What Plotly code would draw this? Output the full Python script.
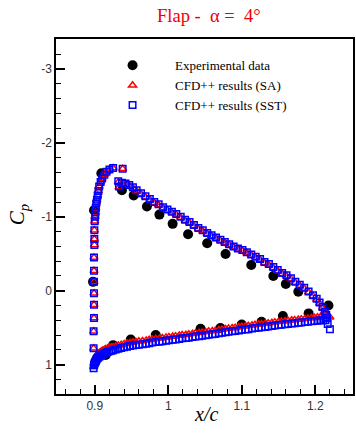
import plotly.graph_objects as go

# Experimental data
exp_x = [0.8977, 0.899, 0.909, 0.937, 0.953, 0.971, 0.988, 1.006, 1.027, 1.053, 1.078,
         1.113, 1.143, 1.160, 1.177, 1.218,
         0.915, 0.925, 0.949, 0.983, 1.044, 1.071, 1.100, 1.127, 1.156, 1.191]
exp_cp = [-0.12, -1.09, -1.59, -1.36, -1.29, -1.14, -1.03, -0.905, -0.765, -0.643, -0.498,
          -0.349, -0.20, -0.09, 0.013, 0.20,
          0.87, 0.737, 0.66, 0.60, 0.516, 0.505, 0.457, 0.42, 0.343, 0.307]

# CFD upper surface (leading-edge column, suction peak, then to trailing edge)
up_x = [0.8985, 0.8985, 0.899, 0.899, 0.899, 0.899, 0.899, 0.899, 0.8995, 0.8995, 0.8995,
        0.900, 0.9005, 0.901, 0.9015, 0.902, 0.903, 0.904, 0.905, 0.906, 0.908, 0.910,
        0.913, 0.916, 0.920, 0.925, 0.938, 0.932, 0.933,
        0.937, 0.942, 0.947, 0.952, 0.957, 0.963, 0.969, 0.975, 0.981, 0.987, 0.993,
        0.999, 1.005, 1.011, 1.017, 1.023, 1.029, 1.035, 1.041, 1.047, 1.053, 1.059,
        1.065, 1.071, 1.077, 1.083, 1.089, 1.095, 1.101, 1.107, 1.113, 1.119, 1.125,
        1.131, 1.137, 1.143, 1.149, 1.155, 1.161, 1.167, 1.173, 1.179, 1.185, 1.191,
        1.197, 1.202, 1.206, 1.210, 1.213, 1.215, 1.216]
up_cp_sst = [0.78, 0.55, 0.37, 0.19, 0.035, -0.12, -0.27, -0.45, -0.62, -0.70, -0.82,
             -0.94, -1.00, -1.06, -1.12, -1.18, -1.23, -1.29, -1.35, -1.41, -1.47, -1.52,
             -1.57, -1.61, -1.64, -1.66, -1.65, -1.48, -1.41,
             -1.46, -1.45, -1.43, -1.40, -1.36, -1.32, -1.28, -1.24, -1.20, -1.17, -1.13,
             -1.10, -1.07, -1.04, -1.00, -0.96, -0.93, -0.89, -0.85, -0.82, -0.78, -0.75,
             -0.72, -0.69, -0.66, -0.63, -0.60, -0.57, -0.55, -0.52, -0.49, -0.46, -0.43,
             -0.39, -0.36, -0.32, -0.28, -0.24, -0.21, -0.17, -0.12, -0.08, -0.04, 0.01,
             0.06, 0.11, 0.16, 0.22, 0.28, 0.33, 0.37]
up_cp_sa = [0.78, 0.55, 0.37, 0.19, 0.035, -0.12, -0.27, -0.45, -0.62, -0.70, -0.82,
            -0.94, -1.00, -1.06, -1.12, -1.18, -1.23, -1.29, -1.35, -1.41, -1.47, -1.52,
            -1.57, -1.61, -1.64, -1.66, -1.65, -1.47, -1.40,
            -1.45, -1.44, -1.42, -1.39, -1.35, -1.31, -1.27, -1.23, -1.19, -1.16, -1.12,
            -1.09, -1.06, -1.03, -0.99, -0.95, -0.92, -0.88, -0.84, -0.81, -0.77, -0.74,
            -0.71, -0.68, -0.65, -0.62, -0.59, -0.56, -0.54, -0.51, -0.48, -0.45, -0.42,
            -0.38, -0.35, -0.31, -0.27, -0.23, -0.20, -0.16, -0.11, -0.07, -0.03, 0.02,
            0.07, 0.12, 0.17, 0.23, 0.28, 0.33, 0.36]

# CFD lower surface (stagnation to trailing edge)
lo_x = [0.8985, 0.899, 0.8995, 0.900, 0.9008, 0.9015, 0.9022, 0.903, 0.904, 0.905, 0.9065,
        0.908, 0.9095, 0.911, 0.913, 0.915, 0.9175, 0.920, 0.9225, 0.925, 0.9285,
        0.932, 0.936, 0.940, 0.944, 0.948, 0.952, 0.956, 0.960, 0.965, 0.970, 0.974,
        0.978, 0.983, 0.988, 0.992, 0.997, 1.001, 1.006, 1.010, 1.015, 1.019, 1.024,
        1.028, 1.033, 1.037, 1.042, 1.046, 1.051, 1.055, 1.060, 1.064, 1.069, 1.073,
        1.078, 1.082, 1.087, 1.091, 1.096, 1.100, 1.105, 1.109, 1.114, 1.118, 1.123,
        1.127, 1.132, 1.136, 1.141, 1.145, 1.150, 1.154, 1.159, 1.163, 1.168, 1.172,
        1.177, 1.181, 1.186, 1.190, 1.195, 1.199, 1.203, 1.207, 1.211, 1.214, 1.217, 1.220]
lo_cp_sa = [1.03, 0.98, 0.96, 0.94, 0.92, 0.90, 0.885, 0.87, 0.86, 0.85, 0.84,
            0.83, 0.82, 0.81, 0.80, 0.79, 0.78, 0.77, 0.765, 0.76, 0.75,
            0.74, 0.73, 0.72, 0.712, 0.705, 0.697, 0.69, 0.685, 0.68, 0.672, 0.665,
            0.658, 0.65, 0.645, 0.64, 0.632, 0.625, 0.62, 0.615, 0.607, 0.60, 0.595,
            0.59, 0.582, 0.575, 0.57, 0.565, 0.557, 0.55, 0.545, 0.54, 0.532, 0.525,
            0.517, 0.51, 0.505, 0.50, 0.492, 0.485, 0.48, 0.475, 0.467, 0.46, 0.455,
            0.45, 0.445, 0.44, 0.432, 0.425, 0.42, 0.415, 0.41, 0.405, 0.40, 0.395,
            0.39, 0.385, 0.38, 0.375, 0.37, 0.365, 0.36, 0.355, 0.352, 0.35, 0.352, 0.36]
lo_cp_sst = [1.05, 1.01, 0.995, 0.98, 0.965, 0.95, 0.935, 0.92, 0.91, 0.90, 0.89,
             0.88, 0.87, 0.86, 0.85, 0.84, 0.83, 0.82, 0.812, 0.805, 0.795,
             0.785, 0.775, 0.765, 0.757, 0.75, 0.742, 0.735, 0.73, 0.725, 0.717, 0.71,
             0.702, 0.695, 0.69, 0.685, 0.677, 0.67, 0.665, 0.66, 0.652, 0.645, 0.64,
             0.635, 0.627, 0.62, 0.615, 0.61, 0.602, 0.595, 0.59, 0.585, 0.577, 0.57,
             0.562, 0.555, 0.55, 0.545, 0.537, 0.53, 0.525, 0.52, 0.512, 0.505, 0.50,
             0.495, 0.49, 0.485, 0.477, 0.47, 0.465, 0.46, 0.455, 0.45, 0.445, 0.44,
             0.435, 0.43, 0.425, 0.42, 0.415, 0.41, 0.405, 0.40, 0.40, 0.40, 0.45, 0.52]

x_ticks = [0.9, 1.0, 1.1, 1.2]
x_ticklabels = ["0.9", "1", "1.1", "1.2"]
y_ticks = [-3, -2, -1, 0, 1]
y_ticklabels = ["-3", "-2", "-1", "0", "1"]

fig = go.Figure()
fig.add_trace(go.Scatter(x=exp_x, y=exp_cp, mode="markers", name="Experimental data",
                         marker=dict(symbol="circle", size=10, color="black")))
fig.add_trace(go.Scatter(x=up_x + lo_x, y=up_cp_sa + lo_cp_sa, mode="markers",
                         name="CFD++ results (SA)",
                         marker=dict(symbol="triangle-up-open", size=7, color="#ff0000",
                                     line=dict(width=1.5, color="#ff0000"))))
fig.add_trace(go.Scatter(x=up_x + lo_x, y=up_cp_sst + lo_cp_sst, mode="markers",
                         name="CFD++ results (SST)",
                         marker=dict(symbol="square-open", size=6.5, color="#0000ff",
                                     line=dict(width=1.5, color="#0000ff"))))

axis_common = dict(showgrid=False, zeroline=False, showline=True, mirror=True,
                   linecolor="black", linewidth=1.5, ticks="inside", ticklen=9,
                   tickwidth=1.5, tickcolor="black",
                   tickfont=dict(family="Liberation Sans", size=12, color="#333"))

fig.update_xaxes(range=[0.8473, 1.2514], tickvals=x_ticks, ticktext=x_ticklabels,
                 minor=dict(ticks="inside", ticklen=5, dtick=0.02, tickcolor="black",
                            tickwidth=1),
                 **axis_common)
fig.update_yaxes(range=[1.398, -3.407], tickvals=y_ticks, ticktext=y_ticklabels,
                 minor=dict(ticks="inside", ticklen=5, dtick=0.2, tickcolor="black",
                            tickwidth=1),
                 **axis_common)

fig.update_layout(
    width=356, height=433,
    margin=dict(l=56, r=1, t=39, b=39),
    plot_bgcolor="white", paper_bgcolor="white",
    showlegend=True,
    legend=dict(x=0.1147, y=0.968, xanchor="left", yanchor="top",
                bgcolor="rgba(0,0,0,0)", borderwidth=0,
                font=dict(family="Liberation Serif", size=13, color="black"),
                itemwidth=75),
    annotations=[
        dict(text="Flap -  \u03b1 =  4\u00b0", xref="paper", yref="paper",
             x=(210 - 56) / 299, y=1 + (39 - 16) / 355, xanchor="center", yanchor="middle",
             showarrow=False, font=dict(family="Liberation Serif", size=18.5, color="#ee0000")),
        dict(text="<i>x/c</i>", xref="paper", yref="paper",
             x=(207 - 56) / 299, y=-(414 - 394) / 355, xanchor="center", yanchor="middle",
             showarrow=False, font=dict(family="Liberation Serif", size=20, color="black")),
        dict(text="<i>C<sub>p</sub></i>", xref="paper", yref="paper",
             x=-(56 - 18) / 299, y=(394 - 215) / 355, xanchor="center", yanchor="middle",
             textangle=-90, showarrow=False,
             font=dict(family="Liberation Serif", size=21, color="black")),
    ],
)

fig.write_html("out.html")
